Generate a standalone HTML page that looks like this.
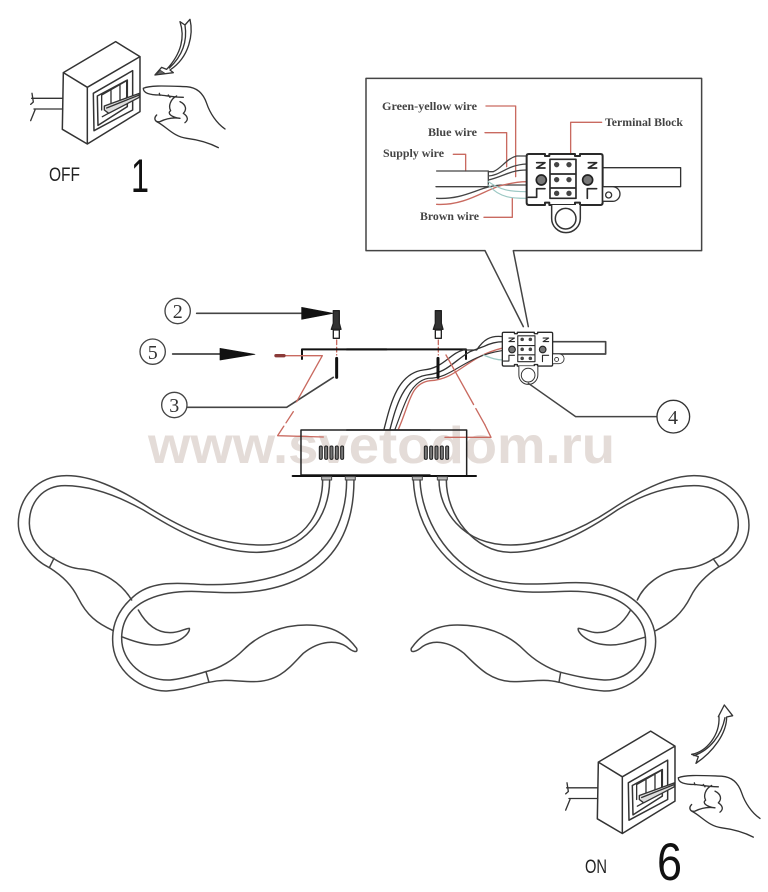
<!DOCTYPE html>
<html><head><meta charset="utf-8"><style>
html,body{margin:0;padding:0;background:#fff}
svg{display:block;filter:blur(.35px)}
</style></head><body>
<svg width="768" height="892" viewBox="0 0 768 892" xmlns="http://www.w3.org/2000/svg" fill="none" stroke-linecap="round" stroke-linejoin="round">
<rect width="768" height="892" fill="#fff" stroke="none"/>

<!-- watermark -->
<text x="148" y="463" font-family="Liberation Sans, sans-serif" font-weight="700" font-size="52" fill="#e4dcd8" stroke="none" textLength="467" lengthAdjust="spacingAndGlyphs">www.svetodom.ru</text>

<defs>
<g id="sw">
  <path d="M160 188L317 95L390 140L232 232ZM232 232L390 140V305L232 402ZM160 188L232 232V402L157 358Z" fill="#fff" stroke="#333" stroke-width="4.5"/>
  <path d="M250 250L368 182V300L252 362ZM262 258L352 210V290L264 346Z" stroke="#333" stroke-width="4.5"/>
  <path d="M275 255V300M303 240V290M330 225V275M350 212V265M275 255L350 212M277 320L350 280" stroke="#333" stroke-width="4"/>
  <path d="M283 288L388 250V262L296 310L283 300ZM290 294L385 256" fill="#ddd" stroke="#333" stroke-width="4"/>
  <path d="M65 265H158M72 297H158M66 250L70 276L62 283M75 300L62 332" stroke="#333" stroke-width="4"/>
  <path d="M400 235C420 225 470 228 530 230C560 232 580 250 590 280C600 310 620 340 645 357M400 235C400 250 420 255 450 255C470 257 490 262 520 262M475 255L480 262M448 250L450 256M500 258C480 268 475 290 482 302C470 310 485 322 510 325M510 275C530 285 530 300 520 310C535 320 535 330 525 338M440 315C430 325 435 338 450 335C470 325 490 322 510 325M440 335C470 350 490 380 530 385C570 390 600 400 625 413" stroke="#333" stroke-width="4"/>
</g>
<g id="tb">
  <path d="M500 258Q500 252 506 252H555V258H568V252H645V258H660V252H722Q728 252 728 258V398Q728 405 722 405H660V398H645V405H568V398H555V405H506Q500 405 500 398Z" fill="#fff" stroke="#2a2a2a" stroke-width="6"/>
  <path d="M570 268H648V385H570ZM570 312H648M570 354H648" stroke="#2a2a2a" stroke-width="5"/>
  <circle cx="590" cy="284" r="8" fill="#444"/><circle cx="627" cy="284" r="8" fill="#444"/>
  <circle cx="590" cy="329" r="8" fill="#444"/><circle cx="627" cy="329" r="8" fill="#444"/>
  <circle cx="590" cy="370" r="8" fill="#444"/><circle cx="627" cy="370" r="8" fill="#444"/>
  <circle cx="544" cy="330" r="15" fill="#777" stroke="#222" stroke-width="5"/>
  <circle cx="683" cy="330" r="15" fill="#777" stroke="#222" stroke-width="5"/>
  <path d="M530 278L555 278L530 294H555M685 278L710 278L685 294H710M555 356H530V382H505M710 356H682V385" stroke="#2a2a2a" stroke-width="5"/>
  <path d="M575 405V445A43 43 0 0 0 661 445V405" fill="#fff" stroke="#333" stroke-width="4.5"/>
  <circle cx="617" cy="446" r="31" fill="#fff" stroke="#333" stroke-width="4.5"/>
  <path d="M730 350H758A19 19 0 0 1 758 394Q745 394 730 394" fill="#fff" stroke="#333" stroke-width="4"/>
  <circle cx="746" cy="375" r="9" stroke="#333" stroke-width="4"/>
</g>
</defs>

<!-- switch 1 -->
<g transform="translate(10 10) scale(.3333)">
  <use href="#sw"/>
  <path d="M510 35L525 45L540 28C550 70 540 140 480 180L490 188L435 195L455 172L470 178C515 130 525 80 510 35ZM525 45C532 90 520 135 478 174" fill="#fff" stroke="#333" stroke-width="4"/>
  <path d="M450 180L465 190L440 194Z" fill="#666" stroke="#333" stroke-width="2"/>
</g>
<text x="49" y="181" font-family="Liberation Sans, sans-serif" font-size="19" fill="#222" stroke="none" textLength="31" lengthAdjust="spacingAndGlyphs">OFF</text>
<text x="131" y="192" font-family="Liberation Sans, sans-serif" font-size="47" fill="#111" stroke="none" textLength="18" lengthAdjust="spacingAndGlyphs">1</text>

<!-- switch 6 -->
<g transform="translate(545 699.5) scale(.3333)">
  <use href="#sw"/>
</g>
<g transform="translate(550 695) scale(.3333)">
  <path d="M523 30L548 62L530 66C530 115 490 170 438 205L445 185L425 178C470 170 510 120 507 65L505 65Z" fill="#fff" stroke="#333" stroke-width="4"/>
  <path d="M525 68C515 120 480 165 432 182" stroke="#333" stroke-width="4"/>
</g>
<text x="585" y="873" font-family="Liberation Sans, sans-serif" font-size="19" fill="#222" stroke="none" textLength="22" lengthAdjust="spacingAndGlyphs">ON</text>
<text x="657" y="880" font-family="Liberation Sans, sans-serif" font-size="53" fill="#111" stroke="none" textLength="25" lengthAdjust="spacingAndGlyphs">6</text>

<!-- inset -->
<g transform="translate(360 70) scale(.3333)">
  <path d="M375 542H18V25H1025V542H460L505 770M375 542L490 770" stroke="#444" stroke-width="4.5"/>
  <g stroke="#c96a60" stroke-width="4">
    <path d="M378 108H467V320M375 188H440V290M280 253H317V303M372 442H457V385M632 250V157H725"/>
  </g>
  <path d="M230 303H385V350H228M385 305L400 305C425 295 440 265 470 258H500M385 318C425 315 440 285 500 282M385 330C430 320 450 300 500 300M230 385C320 390 360 345 430 345Q470 345 500 345" stroke="#444" stroke-width="4"/>
  <path d="M230 403C320 408 380 355 430 345Q470 335 500 335" stroke="#c96a60" stroke-width="4"/>
  <path d="M385 335C420 360 450 365 500 365M385 345C420 385 460 385 500 385" stroke="#9cc8c4" stroke-width="3.5"/>
  <path d="M728 293H962V350H728" stroke="#333" stroke-width="4"/>
  <use href="#tb"/>
</g>
<g font-family="Liberation Serif, serif" font-size="11.5" font-weight="700" fill="#444" stroke="none">
  <text x="382" y="110" textLength="95" lengthAdjust="spacingAndGlyphs">Green-yellow wire</text>
  <text x="428" y="136" textLength="49" lengthAdjust="spacingAndGlyphs">Blue wire</text>
  <text x="383" y="157" textLength="61" lengthAdjust="spacingAndGlyphs">Supply wire</text>
  <text x="420" y="220" textLength="59" lengthAdjust="spacingAndGlyphs">Brown wire</text>
  <text x="605" y="126" textLength="78" lengthAdjust="spacingAndGlyphs">Terminal Block</text>
</g>

<!-- mid left -->
<g transform="translate(130 290) scale(.3333)">
  <circle cx="143" cy="63" r="38" stroke="#444" stroke-width="4"/>
  <circle cx="68" cy="185" r="38" stroke="#444" stroke-width="4"/>
  <circle cx="133" cy="345" r="38" stroke="#444" stroke-width="4"/>
  <path d="M200 70H515M128 192H270M172 352H470L610 262" stroke="#444" stroke-width="5"/>
  <path d="M515 52L610 70L515 88ZM270 175L375 193L270 210Z" fill="#111" stroke="#111" stroke-width="2"/>
  <path d="M610 62H628V100L633 118H604L610 100Z" fill="#333" stroke="#222" stroke-width="4"/>
  <rect x="610" y="120" width="18" height="25" fill="#fff" stroke="#222" stroke-width="4"/>
  <path d="M620 150V195" stroke="#c96a60" stroke-width="4" stroke-dasharray="14 8"/>
  <path d="M620 205V262" stroke="#111" stroke-width="9"/>
  <path d="M516 207V178H770" stroke="#111" stroke-width="6"/>
  <path d="M440 197H577L500 335" stroke="#c96a60" stroke-width="4"/>
  <path d="M490 365L443 437L580 441" stroke="#c96a60" stroke-width="4" stroke-dasharray="40 12 400 0"/>
  <path d="M438 197H462" stroke="#8a3a38" stroke-width="10"/>
  <path d="M900 420H513V555H900" stroke="#222" stroke-width="4.5"/>
  <path d="M488 558H900" stroke="#111" stroke-width="6"/>
  <g fill="#777" stroke="#222" stroke-width="3">
    <rect x="568" y="468" width="9" height="40" rx="4"/><rect x="584" y="468" width="9" height="40" rx="4"/><rect x="600" y="468" width="9" height="40" rx="4"/><rect x="616" y="468" width="9" height="40" rx="4"/><rect x="632" y="468" width="9" height="40" rx="4"/>
  </g>
</g>
<g font-family="Liberation Serif, serif" font-size="20" fill="#333" stroke="none" text-anchor="middle">
  <text x="177.7" y="318">2</text>
  <text x="152.7" y="359">5</text>
  <text x="174.3" y="412">3</text>
  <text x="673" y="424">4</text>
</g>

<!-- mid right -->
<g transform="translate(380 290) scale(.3333)">
  <path d="M166 62H184V100L189 118H160L166 100Z" fill="#333" stroke="#222" stroke-width="4"/>
  <rect x="166" y="120" width="18" height="25" fill="#fff" stroke="#222" stroke-width="4"/>
  <path d="M175 150V195" stroke="#c96a60" stroke-width="4" stroke-dasharray="14 8"/>
  <path d="M-100 178H258V207" stroke="#111" stroke-width="6"/>
  <path d="M12 418C30 350 50 250 130 240C190 235 210 190 250 180L290 180C310 150 330 135 370 140" stroke="#333" stroke-width="4"/>
  <path d="M30 418C48 350 70 265 140 255C200 250 225 210 270 185L310 170C330 160 350 155 370 155" stroke="#333" stroke-width="4"/>
  <path d="M55 418C90 340 90 280 150 272C230 270 260 200 365 175" stroke="#c96a60" stroke-width="4"/>
  <path d="M45 418C75 340 90 275 145 265C220 265 250 200 365 182" stroke="#333" stroke-width="3.5"/>
  <path d="M310 195C335 205 350 210 370 210" stroke="#9cc8c4" stroke-width="4"/>
  <path d="M174 205V262" stroke="#111" stroke-width="9"/>
  <path d="M198 195L315 405" stroke="#c96a60" stroke-width="4" stroke-dasharray="170 14 500 0"/>
  <path d="M195 442H333L315 405" stroke="#c96a60" stroke-width="4"/>
  <path d="M-100 420H260V555" stroke="#222" stroke-width="4.5"/>
  <path d="M-100 558H288" stroke="#111" stroke-width="6"/>
  <g fill="#777" stroke="#222" stroke-width="3">
    <rect x="133" y="468" width="9" height="40" rx="4"/><rect x="149" y="468" width="9" height="40" rx="4"/><rect x="165" y="468" width="9" height="40" rx="4"/><rect x="181" y="468" width="9" height="40" rx="4"/><rect x="197" y="468" width="9" height="40" rx="4"/>
  </g>
  <path d="M518 155H677V192H518" stroke="#444" stroke-width="5"/>
  <g transform="translate(367 127) scale(.662) translate(-500 -252)"><use href="#tb"/></g>
  <path d="M445 280L587 380H830" stroke="#444" stroke-width="4.5"/>
  <circle cx="880" cy="380" r="49" stroke="#333" stroke-width="4"/>
</g>

<!-- left arms -->
<g transform="translate(0 465) scale(.3333)" stroke="#444" stroke-width="4.5">
  <path d="M965 35H995V45H965ZM1036 35H1066V45H1036Z" fill="#bbb" stroke-width="3"/>
  <path d="M968 45C968 120 930 240 790 240C640 240 540 185 450 130C350 65 270 32 200 32C110 32 55 100 55 175C55 230 100 285 148 308"/>
  <path d="M989 45C989 150 920 262 770 262C640 262 520 190 430 135C340 85 260 62 195 62C130 62 88 110 88 175C88 220 120 260 160 280"/>
  <path d="M148 308L162 280"/>
  <path d="M160 280C200 305 220 310 245 312C310 318 365 355 395 405M415 435C440 480 470 503 510 503C540 503 555 490 568 490C572 500 545 540 470 540C430 540 390 525 365 515M148 308C190 335 215 360 235 400C260 450 290 475 340 497"/>
  <path d="M1040 45C1040 150 1000 260 880 315C790 355 680 362 600 358C520 352 450 350 400 395C360 430 338 470 338 520C335 620 430 680 500 678C550 675 590 660 625 652"/>
  <path d="M1062 45C1062 170 1020 280 900 340C800 390 700 385 600 380C500 375 365 400 365 520C365 590 430 648 510 645C550 642 590 628 618 620"/>
  <path d="M618 620L627 652"/>
  <path d="M618 620C660 610 700 585 730 555C780 505 850 480 920 480C1000 480 1040 510 1070 550C1075 565 1060 562 1040 545C1010 525 960 525 910 565C870 605 840 650 760 650C710 650 680 640 627 652"/>
</g>

<!-- right arms -->
<g transform="translate(384 465) scale(.3333)" stroke="#444" stroke-width="4.5">
  <path d="M85 35H115V45H85ZM160 35H190V45H160Z" fill="#bbb" stroke-width="3"/>
  <path d="M165 45C165 130 230 240 380 240C480 240 590 195 680 135C770 75 860 32 930 32C1030 32 1095 100 1095 180C1095 235 1060 280 1005 305"/>
  <path d="M187 45C187 150 270 262 380 262C500 262 620 190 700 135C780 85 860 62 930 62C1010 62 1063 110 1063 180C1063 225 1030 265 988 282"/>
  <path d="M988 282L1005 305"/>
  <path d="M988 282C960 300 930 310 890 312C830 320 780 360 760 405M740 435C715 480 680 503 640 503C615 503 600 490 583 490C578 500 610 540 680 540C720 540 750 525 782 517M1005 305C960 335 935 365 920 395C895 445 860 475 815 497"/>
  <path d="M88 45C95 180 170 290 280 345C350 380 430 385 520 380C610 375 680 385 730 425C770 460 785 490 785 530C785 590 730 648 660 645C610 642 570 632 530 622"/>
  <path d="M108 45C112 160 190 290 300 335C370 362 450 358 520 355C600 350 660 352 720 385C780 420 815 470 815 530C815 620 730 680 660 678C610 675 570 665 527 652"/>
  <path d="M530 622L525 652"/>
  <path d="M530 622C490 610 450 585 420 555C370 505 300 480 220 480C150 480 110 510 82 550C78 565 95 562 115 545C145 525 190 525 240 565C280 605 320 650 390 650C440 650 480 640 525 652"/>
</g>
</svg>
</body></html>
